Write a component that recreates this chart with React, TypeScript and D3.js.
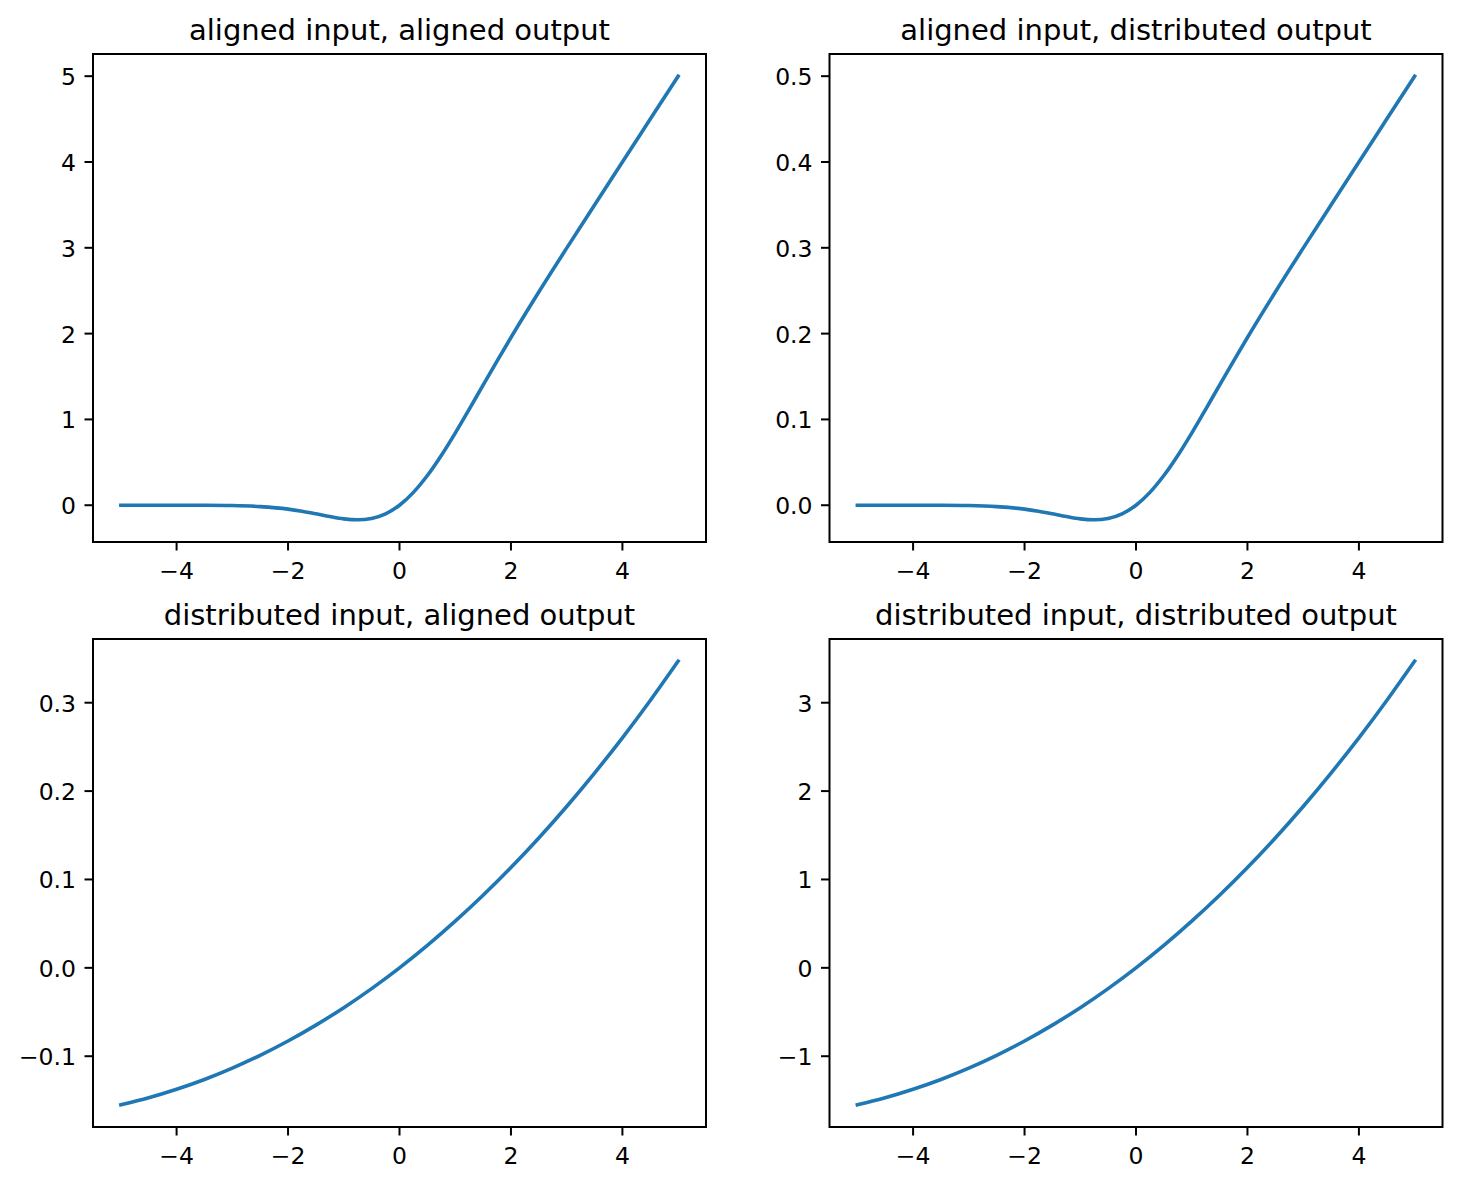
import React from "react";
import * as d3 from "d3";

// ---- data ----
const xGelu = [-5, -4.5, -4, -3.5, -3, -2.5, -2, -1.75, -1.5, -1.25, -1, -0.75, -0.5, -0.25, 0, 0.25, 0.5, 0.75, 1, 1.25, 1.5, 1.75, 2, 2.5, 3, 3.5, 4, 4.5, 5];
const yAlignedAligned = [0, 0, -0.0001, -0.0008, -0.004, -0.016, -0.045, -0.070, -0.100, -0.132, -0.159, -0.170, -0.154, -0.100, 0, 0.150, 0.346, 0.580, 0.841, 1.118, 1.400, 1.680, 1.955, 2.485, 2.996, 3.499, 4.0, 4.5, 5.0];
const yAlignedDistributed = [0, 0, -0.00001, -0.00008, -0.0004, -0.0016, -0.0045, -0.0070, -0.0100, -0.0132, -0.0159, -0.0170, -0.0154, -0.0100, 0, 0.0150, 0.0346, 0.0580, 0.0841, 0.1118, 0.1400, 0.1680, 0.1955, 0.2485, 0.2996, 0.3499, 0.400, 0.450, 0.500];

const xPoly = [-5, -4.5, -4, -3.5, -3, -2.5, -2, -1.5, -1, -0.5, 0, 0.5, 1, 1.5, 2, 2.5, 3, 3.5, 4, 4.5, 5];
const yDistributedAligned = [-0.155, -0.147, -0.1374, -0.1263, -0.1135, -0.099, -0.0828, -0.0648, -0.0451, -0.0235, 0, 0.0254, 0.0528, 0.0821, 0.1135, 0.147, 0.1826, 0.2204, 0.2603, 0.3025, 0.347];
const yDistributedDistributed = [-1.55, -1.47, -1.374, -1.263, -1.135, -0.99, -0.828, -0.648, -0.451, -0.235, 0, 0.254, 0.528, 0.821, 1.135, 1.47, 1.826, 2.204, 2.603, 3.025, 3.47];

const xTicks = [-4, -2, 0, 2, 4];
const ticksAA = [0, 1, 2, 3, 4, 5];
const ticksAD = [0.0, 0.1, 0.2, 0.3, 0.4, 0.5];
const ticksDA = [-0.1, 0.0, 0.1, 0.2, 0.3];
const ticksDD = [-1, 0, 1, 2, 3];

const titles = [
  "aligned input, aligned output",
  "aligned input, distributed output",
  "distributed input, aligned output",
  "distributed input, distributed output",
];

const W = 1460;
const H = 1186;
const FONT = "DejaVu Sans, Verdana, sans-serif";
const BLUE = "#1f77b4";

const panels = [
  { title: titles[0], xs: xGelu, ys: yAlignedAligned, ticks: ticksAA, fmt: d3.format("d"), left: 93, top: 54, curve: d3.curveMonotoneX },
  { title: titles[1], xs: xGelu, ys: yAlignedDistributed, ticks: ticksAD, fmt: d3.format(".1f"), left: 829.5, top: 54, curve: d3.curveMonotoneX },
  { title: titles[2], xs: xPoly, ys: yDistributedAligned, ticks: ticksDA, fmt: d3.format(".1f"), left: 93, top: 639, curve: d3.curveNatural },
  { title: titles[3], xs: xPoly, ys: yDistributedDistributed, ticks: ticksDD, fmt: d3.format("d"), left: 829.5, top: 639, curve: d3.curveNatural },
];

const PW = 613;
const PH = 488;
const TICK_FS = 23.5;
const TITLE_FS = 29;

function Panel({ p }: { p: any }) {
  const x = d3.scaleLinear().domain([-5.5, 5.5]).range([p.left, p.left + PW]);
  const [lo, hi] = d3.extent(p.ys as number[]) as [number, number];
  const m = (hi - lo) * 0.05;
  const y = d3.scaleLinear().domain([lo - m, hi + m]).range([p.top + PH, p.top]);
  const pts = (p.xs as number[]).map((xv: number, i: number) => [xv, p.ys[i]] as [number, number]);
  const line = d3
    .line<[number, number]>()
    .x((d) => x(d[0]))
    .y((d) => y(d[1]))
    .curve(p.curve);
  const bottom = p.top + PH;
  const xfmt = d3.format("d");
  return (
    <g>
      <path d={line(pts) || ""} fill="none" stroke={BLUE} strokeWidth={3.6} strokeLinejoin="round" strokeLinecap="square" />
      <rect x={p.left} y={p.top} width={PW} height={PH} fill="none" stroke="#000" strokeWidth={2} />
      {xTicks.map((t) => (
        <g key={"x" + t}>
          <line x1={x(t)} x2={x(t)} y1={bottom} y2={bottom + 8.5} stroke="#000" strokeWidth={2} />
          <text x={x(t)} y={bottom + 36.5} textAnchor="middle" fontSize={TICK_FS} fontFamily={FONT} fill="#000">
            {xfmt(t)}
          </text>
        </g>
      ))}
      {(p.ticks as number[]).map((t) => (
        <g key={"y" + t}>
          <line x1={p.left - 8.5} x2={p.left} y1={y(t)} y2={y(t)} stroke="#000" strokeWidth={2} />
          <text x={p.left - 17} y={y(t) + 9} textAnchor="end" fontSize={TICK_FS} fontFamily={FONT} fill="#000">
            {p.fmt(t)}
          </text>
        </g>
      ))}
      <text x={p.left + PW / 2} y={p.top - 14.5} textAnchor="middle" fontSize={TITLE_FS} fontFamily={FONT} fill="#000">
        {p.title}
      </text>
    </g>
  );
}

export default function App() {
  return (
    <svg
      width={W}
      height={H}
      viewBox={`0 0 ${W} ${H}`}
      style={{ position: "absolute", left: 0, top: 0, background: "#fff" }}
    >
      <rect x={0} y={0} width={W} height={H} fill="#fff" />
      {panels.map((p, i) => (
        <Panel key={i} p={p} />
      ))}
    </svg>
  );
}
